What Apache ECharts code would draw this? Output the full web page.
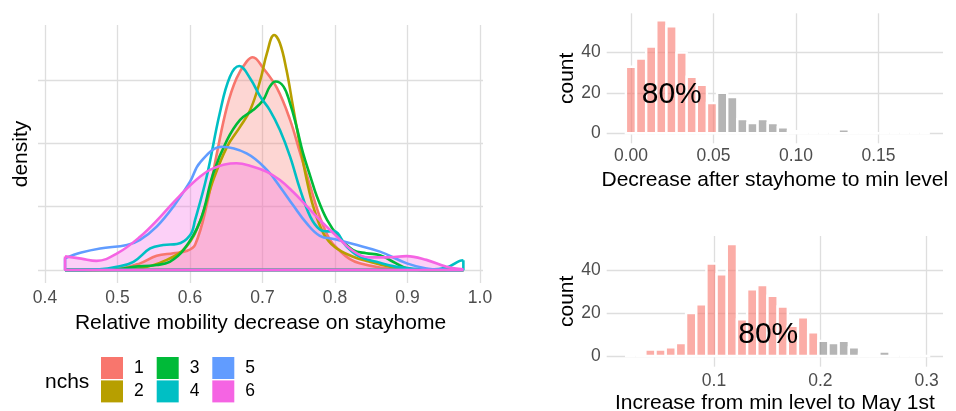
<!DOCTYPE html>
<html>
<head>
<meta charset="utf-8">
<script src="https://cdn.jsdelivr.net/npm/echarts@6/dist/echarts.min.js"></script>
<style>
html,body{margin:0;padding:0;background:#fff;}
#chart{width:956px;height:411px;}
</style>
</head>
<body>
<div id="chart"></div>
<script>
// ---------------- DATA ----------------
var groupNames = ['1', '2', '3', '4', '5', '6'];
var densityRange = [0.4276, 0.977];

var densityNchs1 = [[0.4276,0],[0.47,0.005],[0.5,0.03],[0.531,0.21],[0.554,0.45],[0.577,0.53],[0.595,0.6],[0.607,0.8],[0.623,2.05],[0.637,3.68],[0.651,5.16],[0.664,6.05],[0.678,6.58],[0.6865,6.72],[0.701,6.37],[0.72,5.74],[0.738,4.74],[0.752,3.68],[0.766,2.63],[0.779,1.68],[0.793,0.95],[0.807,0.6],[0.82,0.35],[0.834,0.21],[0.862,0.08],[0.9,0.01],[0.977,0]];
var densityNchs2 = [[0.4276,0],[0.5,0.01],[0.53,0.05],[0.568,0.32],[0.595,0.74],[0.614,1.55],[0.632,2.84],[0.651,3.89],[0.669,4.52],[0.683,5.05],[0.697,6.0],[0.706,6.84],[0.716,7.42],[0.724,7.16],[0.733,6.32],[0.742,5.16],[0.752,3.89],[0.761,2.84],[0.77,2.0],[0.784,1.16],[0.8,0.72],[0.825,0.42],[0.848,0.26],[0.871,0.13],[0.9,0.02],[0.977,0]];
var densityNchs3 = [[0.4276,0],[0.5,0.03],[0.522,0.1],[0.554,0.16],[0.572,0.26],[0.591,0.63],[0.614,1.55],[0.632,3.05],[0.651,4.1],[0.669,4.74],[0.687,5.05],[0.701,5.37],[0.71,5.79],[0.718,5.95],[0.729,5.79],[0.738,5.26],[0.747,4.52],[0.756,3.68],[0.766,2.95],[0.775,2.32],[0.789,1.58],[0.805,1.05],[0.825,0.63],[0.843,0.53],[0.862,0.47],[0.88,0.26],[0.9,0.05],[0.93,0.0],[0.977,0]];
var densityNchs4 = [[0.4276,0],[0.475,0.02],[0.499,0.1],[0.522,0.26],[0.545,0.68],[0.563,0.79],[0.582,0.82],[0.6,1.1],[0.607,1.58],[0.623,2.95],[0.641,4.95],[0.655,6.1],[0.668,6.44],[0.683,6.05],[0.697,5.47],[0.71,5.05],[0.724,4.42],[0.738,3.58],[0.752,2.53],[0.766,1.68],[0.779,1.28],[0.79,1.22],[0.798,1.23],[0.816,0.74],[0.834,0.42],[0.857,0.26],[0.885,0.1],[0.93,0.02],[0.954,0.08],[0.972,0.29],[0.977,0.31]];
var densityNchs5 = [[0.4276,0.37],[0.45,0.55],[0.476,0.68],[0.513,0.79],[0.531,0.95],[0.554,1.37],[0.577,2.0],[0.6,2.79],[0.614,3.4],[0.644,3.89],[0.678,3.68],[0.706,3.16],[0.724,2.63],[0.742,2.05],[0.761,1.47],[0.779,1.08],[0.8,0.97],[0.825,0.82],[0.862,0.58],[0.899,0.21],[0.926,0.05],[0.95,0.01],[0.977,0]];
var densityNchs6 = [[0.4276,0.43],[0.45,0.36],[0.471,0.29],[0.5,0.53],[0.531,1.05],[0.559,1.68],[0.586,2.35],[0.614,2.95],[0.632,3.21],[0.664,3.37],[0.687,3.26],[0.706,3.1],[0.724,2.84],[0.742,2.47],[0.761,2.02],[0.779,1.58],[0.798,1.16],[0.825,0.6],[0.848,0.4],[0.871,0.4],[0.899,0.44],[0.926,0.32],[0.954,0.1],[0.977,0.02]];
var densityGroups = [densityNchs1, densityNchs2, densityNchs3, densityNchs4, densityNchs5, densityNchs6];
var densityTicks = [0.4, 0.5, 0.6, 0.7, 0.8, 0.9, 1.0];
var densityGridValues = [0, 2, 4, 6];

// top-right histogram: decrease after stayhome to min level
var decreaseBinStart = -0.00307;
var decreaseBinWidth = 0.00614;
var decreaseCounts = [33,37,43,56,53,40,28,24,15,20,18,7,5,7,5,3,1,0,0,0,0,2,0,0,0,0,0,0,0,0];
var decreaseQuantile80 = 0.052;
var decreaseTicks = [0, 0.05, 0.10, 0.15];
var decreaseLabelPos = [0.0247, 19];

// bottom-right histogram: increase from min level to May 1st
var increaseBinStart = 0.0163;
var increaseBinWidth = 0.00957;
var increaseCounts = [0,0,3,3,4,6,20,24,43,38,52,17,31,33,28,23,14,18,11,7,6,7,4,1,0,2,0,0,0,0];
var increaseQuantile80 = 0.198;
var increaseTicks = [0.1, 0.2, 0.3];
var increaseLabelPos = [0.151, 9.8];

var countTicks = [0, 20, 40];
var percentLabel = '80%';

// ---------------- STYLE ----------------
var FONT = '"Liberation Sans", Arial, Helvetica, sans-serif';
var colors = ['#F8766D', '#B79F00', '#00BA38', '#00BFC4', '#619CFF', '#F564E3'];
var fillColors = {0: 'rgba(248,118,109,0.3)', 5: 'rgba(245,100,227,0.3)'};
var gridColor = '#DEDEDE';
var tickColor = '#4D4D4D';

function histData(start, width, counts) {
  return counts.map(function (c, i) {
    return [start + i * width, start + (i + 1) * width, c];
  });
}

function histSeries(xi, data, cut) {
  return {
    type: 'custom', xAxisIndex: xi, yAxisIndex: xi, silent: true,
    data: data,
    renderItem: function (params, api) {
      var a = api.value(0), b = api.value(1), c = api.value(2);
      var p0 = api.coord([a, 0]);
      var p1 = api.coord([b, c]);
      var mid = (a + b) / 2;
      return {
        type: 'rect',
        shape: {x: p0[0], y: p1[1], width: p1[0] - p0[0], height: p0[1] - p1[1]},
        style: {fill: mid < cut ? 'rgba(248,118,109,0.6)' : 'rgba(127,127,127,0.58)', stroke: '#ffffff', lineWidth: 2.4}
      };
    }
  };
}

function textSeries(xi, pos) {
  return {
    type: 'custom', xAxisIndex: xi, yAxisIndex: xi, silent: true, z: 10,
    data: [pos],
    renderItem: function (params, api) {
      var p = api.coord([api.value(0), api.value(1)]);
      return {type: 'text', x: p[0], y: p[1], style: {text: percentLabel, font: '30px ' + FONT, fill: '#000', align: 'center', verticalAlign: 'middle'}};
    }
  };
}

function valueAxis(o) {
  var ax = {
    type: 'value', gridIndex: o.grid, min: o.min, max: o.max,
    axisLine: {show: false},
    axisTick: {show: false, customValues: o.ticks},
    axisLabel: {show: o.showLabels !== false, customValues: o.ticks, color: tickColor, fontSize: 17.5, fontFamily: FONT, margin: o.margin,
      formatter: o.fmt},
    splitLine: {show: true, lineStyle: {color: gridColor, width: 1.3}},
    name: o.name, nameLocation: 'middle', nameGap: o.nameGap,
    nameTextStyle: {color: '#000', fontSize: 21, fontFamily: FONT}
  };
  return ax;
}

var series = [];
densityGroups.forEach(function (pts, i) {
  var s = {
    name: groupNames[i], type: 'line', xAxisIndex: 0, yAxisIndex: 0,
    data: pts, smooth: 0.4, showSymbol: false, symbol: 'none', silent: true,
    lineStyle: {color: colors[i], width: 2.6},
    itemStyle: {color: colors[i]}
  };
  if (fillColors[i]) s.areaStyle = {color: fillColors[i], opacity: 1};
  series.push(s);
  var first = pts[0], last = pts[pts.length - 1];
  series.push({
    name: 'edge' + groupNames[i], type: 'line', xAxisIndex: 0, yAxisIndex: 0,
    data: [[densityRange[0], first[1]], [densityRange[0], 0], [densityRange[1], 0], [densityRange[1], last[1]]],
    smooth: false, showSymbol: false, symbol: 'none', silent: true,
    lineStyle: {color: colors[i], width: 2.6}, itemStyle: {color: colors[i]}
  });
});
series.push(histSeries(1, histData(decreaseBinStart, decreaseBinWidth, decreaseCounts), decreaseQuantile80));
series.push(histSeries(2, histData(increaseBinStart, increaseBinWidth, increaseCounts), increaseQuantile80));
series.push(textSeries(1, decreaseLabelPos));
series.push(textSeries(2, increaseLabelPos));

function legendCol(names, left) {
  return {
    data: names, left: left, top: 357, orient: 'vertical', padding: 0,
    itemWidth: 22, itemHeight: 22, itemGap: 1.4, icon: 'rect', selectedMode: false,
    itemStyle: {borderWidth: 0, opacity: 1},
    textStyle: {fontSize: 17.5, color: '#000', fontFamily: FONT, padding: [0, 0, 0, 6]}
  };
}

var option = {
  animation: false,
  backgroundColor: '#ffffff',
  textStyle: {fontFamily: FONT},
  title: {text: 'nchs', left: 45, top: 372, padding: 0, textStyle: {fontSize: 21, fontWeight: 'normal', color: '#000', fontFamily: FONT}},
  legend: [legendCol(['1', '2'], 101), legendCol(['3', '4'], 156.7), legendCol(['5', '6'], 212.3)],
  grid: [
    {left: 38, top: 25, width: 445, height: 258, outerBoundsMode: 'none', containLabel: false},
    {left: 606.7, top: 13.3, width: 336.3, height: 130, outerBoundsMode: 'none', containLabel: false},
    {left: 606.7, top: 236, width: 336.3, height: 130.7, outerBoundsMode: 'none', containLabel: false}
  ],
  xAxis: [
    valueAxis({grid: 0, min: 0.3903, max: 1.0041, ticks: densityTicks, margin: 6, name: 'Relative mobility decrease on stayhome', nameGap: 30, fmt: function (v) { return v.toFixed(1); }}),
    valueAxis({grid: 1, min: -0.0147, max: 0.1891, ticks: decreaseTicks, margin: 4, name: 'Decrease after stayhome to min level', nameGap: 26, fmt: function (v) { return v.toFixed(2); }}),
    valueAxis({grid: 2, min: -0.00094, max: 0.3154, ticks: increaseTicks, margin: 5, name: 'Increase from min level to May 1st', nameGap: 26, fmt: function (v) { return v.toFixed(1); }})
  ],
  yAxis: [
    valueAxis({grid: 0, min: -0.41, max: 7.736, ticks: densityGridValues, showLabels: false, margin: 6, name: 'density', nameGap: 6, fmt: function (v) { return ''; }}),
    valueAxis({grid: 1, min: -5, max: 59.5, ticks: countTicks, margin: 6, name: 'count', nameGap: 29, fmt: function (v) { return String(v); }}),
    valueAxis({grid: 2, min: -5, max: 55.8, ticks: countTicks, margin: 6, name: 'count', nameGap: 29, fmt: function (v) { return String(v); }})
  ],
  series: series
};

var chart = echarts.init(document.getElementById('chart'), null, {renderer: 'canvas'});
chart.setOption(option);
</script>
</body>
</html>
